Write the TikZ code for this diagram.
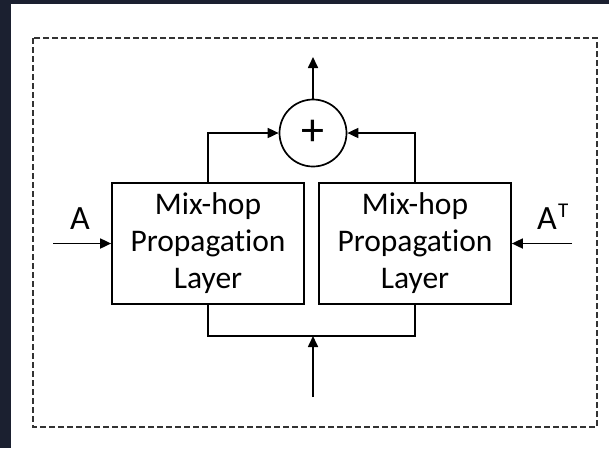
\documentclass[tikz,border=0pt]{standalone}
\usepackage{fontspec}
\setmainfont[Ligatures=CommonOff]{Carlito}
\usetikzlibrary{arrows.meta}
\definecolor{frame}{HTML}{1B2030}
\definecolor{dashgray}{HTML}{333333}
\begin{document}
\begin{tikzpicture}[x=1pt,y=-1pt,
  layer/.style={draw, line width=1.7pt, minimum width=192pt, minimum height=121pt,
    align=center, inner sep=0pt, font=\fontsize{31.5}{37}\selectfont},
  wire/.style={line width=1.7pt},
  feed/.style={wire, -{Triangle[length=11pt,width=10pt]}},
  lbl/.style={font=\fontsize{34}{36}\selectfont, inner sep=0pt, anchor=base},
  suplbl/.style={font=\fontsize{21}{21}\selectfont, inner sep=0pt, anchor=base west}]
% canvas
\fill[frame] (0,0) rectangle (609,448);
\fill[white] (11,4) rectangle (609,448);
\useasboundingbox (0,0) rectangle (609,448);
% enclosing dashed frame
\draw[dashgray, line width=2pt, dash pattern=on 6pt off 3pt] (33,38) rectangle (597,427);
% the two propagation layers
\node[layer] (L) at (208,243.5) {Mix-hop\\Propagation\\Layer};
\node[layer] (R) at (415,243.5) {Mix-hop\\Propagation\\Layer};
% summation
\node[circle, draw, line width=1.7pt, minimum size=67pt, inner sep=0pt,
      font=\fontsize{46}{46}\selectfont] (S) at (313,133) {+};
\coordinate (out) at (313,57);
\draw[feed] (S.north) -- (out);
\draw[feed] (L.north) |- (S.west);
\draw[feed] (R.north) |- (S.east);
% shared input
\coordinate (join) at (313,336);
\coordinate (in) at (313,397);
\draw[wire] (L.south) |- (join) -| (R.south);
\draw[feed] (in) -- (join);
% adjacency inputs
\coordinate (ain) at (53,243.5);
\coordinate (atin) at (572,243.5);
\draw[feed] (ain) -- (L.west);
\draw[feed] (atin) -- (R.east);
\node[lbl] (A) at (80,229) {A};
\node[lbl] (AT) at (547,229) {A};
\node[suplbl] (T) at (558,217) {T};
\end{tikzpicture}
\end{document}
